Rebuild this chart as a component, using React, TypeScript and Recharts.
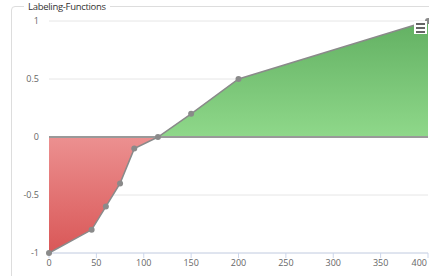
import type { JSX } from 'react';
import {
  ComposedChart,
  Area,
  XAxis,
  YAxis,
  CartesianGrid,
  ReferenceLine,
} from 'recharts';

const xValues = [0, 45, 60, 75, 90, 115, 150, 200, 400];
const yValues = [-1, -0.8, -0.6, -0.4, -0.1, 0, 0.2, 0.5, 1];
const xTicks = [0, 50, 100, 150, 200, 250, 300, 350, 400];
const yTicks = [-1, -0.5, 0, 0.5, 1];
const title = 'Labeling-Functions';

const data = xValues.map((x, i) => ({ x, y: yValues[i] }));

interface TickProps {
  x?: number;
  y?: number;
  payload?: { value: number };
}

function XTick({ x = 0, y = 0, payload }: TickProps): JSX.Element {
  const v = payload?.value ?? 0;
  const last = v === xTicks[xTicks.length - 1];
  return (
    <text
      x={last ? x - 1 : x}
      y={y}
      dy="0.71em"
      textAnchor={last ? 'end' : 'middle'}
      fontSize={9}
      fill="#666"
      fontFamily="'Open Sans', sans-serif"
    >
      {v}
    </text>
  );
}

export default function App(): JSX.Element {
  return (
    <div
      style={{
        position: 'absolute',
        left: 0,
        top: 0,
        width: 429,
        height: 276,
        overflow: 'hidden',
        background: '#fff',
        fontFamily: "'Open Sans', sans-serif",
      }}
    >
      {/* fieldset-like frame */}
      <div
        style={{
          position: 'absolute',
          left: 11,
          top: 6,
          width: 440,
          height: 300,
          border: '1px solid #ddd',
          borderRadius: 4,
          boxSizing: 'border-box',
        }}
      />
      <span
        style={{
          position: 'absolute',
          left: 24,
          top: 0,
          padding: '0 4px',
          background: '#fff',
          fontSize: 9.5,
          letterSpacing: -0.3,
          color: '#333',
          lineHeight: '13px',
          whiteSpace: 'nowrap',
        }}
      >
        {title}
      </span>
      <div style={{ position: 'absolute', left: 0, top: 0 }}>
        <ComposedChart
          width={429}
          height={276}
          data={data}
          margin={{ top: 21, right: 1, left: 9, bottom: 0 }}
        >
          <defs>
            <linearGradient id="posNeg" x1="0" y1="0" x2="0" y2="1">
              <stop offset="0%" stopColor="#62b062" />
              <stop offset="50%" stopColor="#8fd88a" />
              <stop offset="50%" stopColor="#ec9090" />
              <stop offset="100%" stopColor="#d95757" />
            </linearGradient>
          </defs>
          <CartesianGrid vertical={false} stroke="#e6e6e6" />
          <XAxis
            type="number"
            dataKey="x"
            domain={[0, 400]}
            ticks={xTicks}
            interval={0}
            height={23}
            stroke="#ccd6eb"
            tickSize={5}
            tickMargin={2}
            tick={<XTick />}
          />
          <YAxis
            type="number"
            domain={[-1, 1]}
            ticks={yTicks}
            interval={0}
            width={40}
            axisLine={false}
            tickLine={false}
            tickMargin={4}
            tick={{ fontSize: 9, fill: '#666', fontFamily: "'Open Sans', sans-serif" }}
          />
          <Area
            type="linear"
            dataKey="y"
            stroke="#8a8a8a"
            strokeWidth={1.5}
            fill="url(#posNeg)"
            fillOpacity={1}
            dot={{ r: 3, fill: '#8a8a8a', stroke: 'none' }}
            activeDot={false}
            isAnimationActive={false}
          />
          <ReferenceLine y={0} stroke="#999" strokeWidth={2} />
        </ComposedChart>
      </div>
      {/* export menu button */}
      <div
        style={{
          position: 'absolute',
          left: 414,
          top: 21,
          width: 13,
          height: 13,
          background: '#fff',
          display: 'flex',
          flexDirection: 'column',
          justifyContent: 'center',
          gap: 2,
          padding: '0 2px',
          boxSizing: 'border-box',
        }}
      >
        {[0, 1, 2].map((i) => (
          <div key={i} style={{ height: 2, background: '#666' }} />
        ))}
      </div>
    </div>
  );
}
